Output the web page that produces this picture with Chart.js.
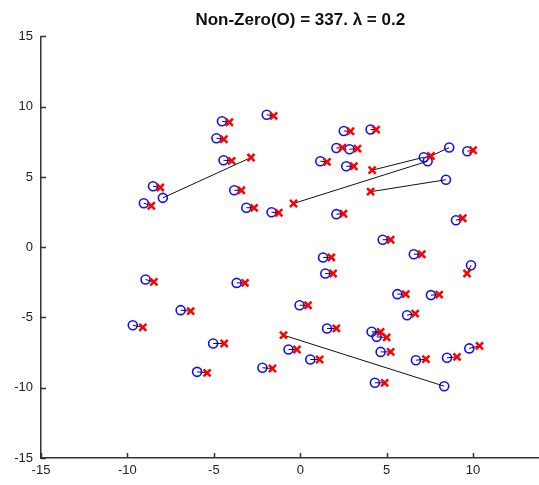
<!DOCTYPE html>
<html>
<head>
<meta charset="utf-8">
<script src="https://cdn.jsdelivr.net/npm/chart.js@4/dist/chart.umd.min.js"></script>
<style>
    html, body { margin: 0; padding: 0; background: #fff; }
    #frame { width: 539px; height: 485px; overflow: hidden; }
    #wrap { width: 567px; height: 485px; }
</style>
</head>
<body>
<div id="frame"><div id="wrap"><canvas id="chart"></canvas></div></div>
<script>
    var TITLE = "Non-Zero(O) = 337. \u03bb = 0.2";

    // observed points (O) and their estimates (x), paired by index
    var circleX = [-4.53, -4.85, -4.44, -8.52, -9.05, -7.95, -3.82, -3.12, -1.94, -1.66,
        2.52, 4.07, 2.09, 2.85, 1.16, 2.66, 7.15, 8.43, 7.37, 8.62,
        9.67, 9.01, 2.09, 4.77, 6.57, 1.32, 1.45, 9.88, 5.62, 7.56,
        6.18, -0.04, 1.55, 8.33, 4.13, 4.42, 4.65, -0.68, 0.58, -2.19,
        4.32, 6.69, 8.49, 9.78, -8.95, -3.68, -6.92, -9.69, -5.04, -5.97];
    var circleY = [8.96, 7.75, 6.19, 4.34, 3.13, 3.51, 4.05, 2.81, 9.42, 2.49,
        8.27, 8.37, 7.06, 6.97, 6.12, 5.76, 6.40, 4.80, 6.12, 7.09,
        6.83, 1.92, 2.35, 0.53, -0.50, -0.73, -1.87, -1.28, -3.34, -3.41,
        -4.84, -4.13, -5.78, -9.89, -6.02, -6.38, -7.45, -7.28, -7.99, -8.58,
        -9.65, -8.04, -7.87, -7.20, -2.30, -2.54, -4.48, -5.55, -6.85, -8.87];
    var crossX = [-4.10, -4.42, -3.97, -8.10, -8.62, -2.85, -3.41, -2.67, -1.54, -1.24,
        2.91, 4.39, 2.44, 3.31, 1.55, 3.10, 4.16, 4.07, -0.39, 7.56,
        10.00, 9.40, 2.50, 5.23, 7.03, 1.80, 1.90, 9.65, 6.10, 8.04,
        6.65, 0.45, 2.09, -0.97, 4.65, 5.00, 5.23, -0.19, 1.12, -1.61,
        4.88, 7.27, 9.07, 10.37, -8.47, -3.20, -6.34, -9.11, -4.40, -5.39];
    var crossY = [8.89, 7.68, 6.14, 4.25, 2.95, 6.38, 4.05, 2.80, 9.35, 2.45,
        8.25, 8.37, 7.08, 7.01, 6.07, 5.76, 5.48, 3.95, 3.11, 6.49,
        6.90, 2.06, 2.38, 0.53, -0.50, -0.73, -1.87, -1.87, -3.34, -3.38,
        -4.73, -4.13, -5.78, -6.26, -6.02, -6.42, -7.45, -7.28, -7.99, -8.63,
        -9.65, -7.97, -7.80, -7.02, -2.47, -2.54, -4.55, -5.71, -6.85, -8.94];

    var xTicks = [-15, -10, -5, 0, 5, 10];
    var yTicks = [-15, -10, -5, 0, 5, 10, 15];

    var AXIS_COLOR = "#333";
    var TEXT_COLOR = "#222";
    var TICK_LEN = 5;

    function points(xs, ys) {
        return xs.map(function(x, i) { return { x: x, y: ys[i] }; });
    }

    // first dataset is drawn on top, so crosses go first and circles last
    var datasets = [{
        type: "scatter",
        data: points(crossX, crossY),
        pointStyle: "crossRot",
        pointRadius: 5,
        borderColor: "#ff0000",
        borderWidth: 2.5
    }];
    for (var i = 0; i < circleX.length; i++) {
        datasets.push({
            type: "line",
            data: [{ x: circleX[i], y: circleY[i] }, { x: crossX[i], y: crossY[i] }],
            borderColor: "#111",
            borderWidth: 1,
            pointRadius: 0,
            fill: false
        });
    }
    datasets.push({
        type: "scatter",
        data: points(circleX, circleY),
        pointStyle: "circle",
        pointRadius: 4.5,
        borderColor: "#1010ff",
        backgroundColor: "rgba(0,0,0,0)",
        borderWidth: 1.6
    });

    // MATLAB style ticks pointing into the plot
    var inwardTicks = {
        id: "inwardTicks",
        afterDraw: function(chart) {
            var ctx = chart.ctx;
            var area = chart.chartArea;
            var xs = chart.scales.x;
            var ys = chart.scales.y;
            ctx.save();
            ctx.strokeStyle = AXIS_COLOR;
            ctx.lineWidth = 1.5;
            ctx.beginPath();
            xs.ticks.forEach(function(t) {
                var px = Math.round(xs.getPixelForValue(t.value)) + 0.5;
                ctx.moveTo(px, area.bottom);
                ctx.lineTo(px, area.bottom - TICK_LEN);
            });
            ys.ticks.forEach(function(t) {
                var py = Math.round(ys.getPixelForValue(t.value)) + 0.5;
                ctx.moveTo(area.left, py);
                ctx.lineTo(area.left + TICK_LEN, py);
            });
            ctx.stroke();
            ctx.restore();
        }
    };

    Chart.defaults.font.family = "'Liberation Sans', Arial, sans-serif";
    Chart.defaults.color = TEXT_COLOR;

    new Chart(document.getElementById("chart"), {
        type: "scatter",
        data: { datasets: datasets },
        plugins: [inwardTicks],
        options: {
            responsive: true,
            maintainAspectRatio: false,
            animation: false,
            events: [],
            layout: { padding: { left: 0, right: 1, top: 0, bottom: 0 } },
            plugins: {
                legend: { display: false },
                tooltip: { enabled: false },
                title: {
                    display: true,
                    text: TITLE,
                    fullSize: false,
                    color: "#111",
                    font: { size: 17, weight: "bold" },
                    padding: { top: 10, bottom: 6 }
                }
            },
            scales: {
                x: {
                    type: "linear",
                    min: -15,
                    max: 15,
                    afterBuildTicks: function(axis) {
                        axis.ticks = xTicks.map(function(v) { return { value: v }; });
                    },
                    afterFit: function(axis) {
                        axis.height = 27;
                        axis.paddingLeft = 0;
                        axis.paddingRight = 0;
                    },
                    grid: { display: false, drawTicks: false },
                    border: { display: true, color: AXIS_COLOR, width: 1.5 },
                    ticks: { padding: 5, font: { size: 13 }, color: TEXT_COLOR, maxRotation: 0 }
                },
                y: {
                    type: "linear",
                    min: -15,
                    max: 15,
                    afterBuildTicks: function(axis) {
                        axis.ticks = yTicks.map(function(v) { return { value: v }; });
                    },
                    afterFit: function(axis) { axis.width = 41; },
                    grid: { display: false, drawTicks: false },
                    border: { display: true, color: AXIS_COLOR, width: 1.5 },
                    ticks: { padding: 8, font: { size: 13 }, color: TEXT_COLOR }
                }
            }
        }
    });
</script>
</body>
</html>
